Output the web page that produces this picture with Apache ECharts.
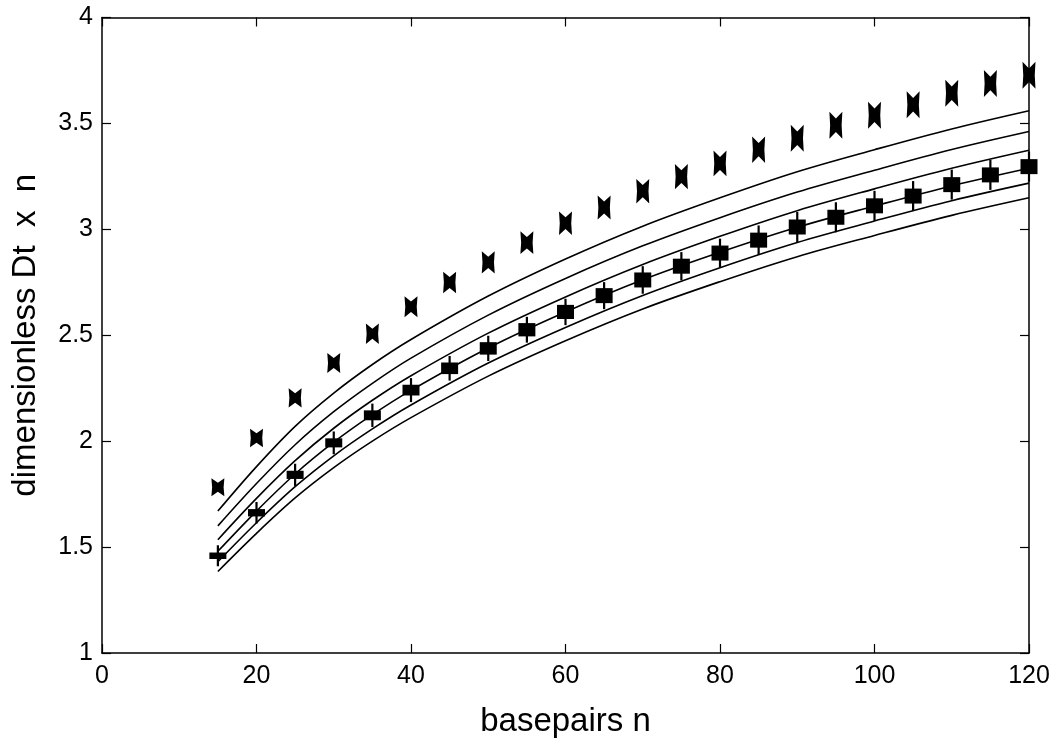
<!DOCTYPE html>
<html>
<head>
<meta charset="utf-8">
<script src="https://cdn.jsdelivr.net/npm/echarts@6/dist/echarts.min.js"></script>
<style>html,body{margin:0;padding:0;background:#fff}#c{width:1054px;height:743px}</style>
</head>
<body>
<div id="c"></div>
<script>
// ---- data ----
const basepairs = [15,20,25,30,35,40,45,50,55,60,65,70,75,80,85,90,95,100,105,110,115,120];
const crossValues = [1.782,2.015,2.204,2.369,2.507,2.634,2.749,2.844,2.937,3.029,3.103,3.180,3.249,3.311,3.376,3.430,3.491,3.539,3.588,3.642,3.688,3.727];
const squareValues = [1.459,1.662,1.841,1.992,2.122,2.241,2.344,2.438,2.526,2.610,2.687,2.761,2.826,2.888,2.949,3.011,3.057,3.111,3.157,3.211,3.257,3.296];
const curveN = [15,20,25,30,35,40,50,60,70,80,90,100,110,120];
const curve1 = [1.67,1.88,2.07,2.227,2.362,2.48,2.685,2.86,3.015,3.149,3.272,3.376,3.474,3.56];
const curve2 = [1.60,1.80,1.983,2.139,2.273,2.392,2.595,2.768,2.922,3.055,3.176,3.279,3.377,3.462];
const curve3 = [1.535,1.73,1.908,2.061,2.193,2.309,2.51,2.681,2.834,2.967,3.088,3.191,3.288,3.373];
const curve4 = [1.48,1.67,1.845,1.995,2.125,2.24,2.44,2.61,2.762,2.892,3.01,3.11,3.205,3.288];
const curve5 = [1.431,1.615,1.785,1.931,2.058,2.171,2.369,2.537,2.688,2.819,2.938,3.039,3.135,3.218];
const curve6 = [1.385,1.565,1.732,1.875,2.0,2.111,2.307,2.474,2.624,2.753,2.871,2.971,3.066,3.149];
const xTicks = [0,20,40,60,80,100,120];
const yTicks = [1,1.5,2,2.5,3,3.5,4];
const xTitle = 'basepairs n';
const yTitle = 'dimensionless Dt  x  n';

// ---- chart ----
const FONT = 'Liberation Sans, Arial, Helvetica, sans-serif';
const pair = (xs, ys) => xs.map((x, i) => [x, ys[i]]);
const curves = [curve1, curve2, curve3, curve4, curve5, curve6];
const bowtie = 'path://M0,0 L6,5 L12,0 L11.3,10 L12,20 L6,15 L0,20 L0.7,10 Z';

const mkAxis = (extra) => Object.assign({
  type: 'value', splitLine: {show: false},
  axisLine: {show: true, onZero: false, lineStyle: {color: '#000', width: 1.5}},
  axisTick: {show: true, inside: true, length: 9, lineStyle: {color: '#000', width: 1.2}},
}, extra);

const series = curves.map(c => ({
  type: 'line', data: pair(curveN, c), smooth: 0.35, symbol: 'none',
  lineStyle: {color: '#000', width: 1.6}, silent: true, z: 2
}));
series.push({
  type: 'scatter', data: pair(basepairs, squareValues),
  symbol: 'rect',
  symbolSize: (v) => [2.2, Math.min(30, 21 + (v[0] - 15) * 0.12)],
  itemStyle: {color: '#000', opacity: 1}, z: 3
});
series.push({
  type: 'scatter', data: pair(basepairs, squareValues),
  symbol: 'rect',
  symbolSize: (v) => [17, Math.min(15, 6.5 + (v[0] - 15) * 0.17)],
  itemStyle: {color: '#000', opacity: 1}, z: 4
});
series.push({
  type: 'scatter', data: pair(basepairs, crossValues),
  symbol: bowtie,
  symbolKeepAspect: false,
  symbolSize: (v) => [13, Math.min(27, 18 + (v[0] - 15) * 0.12)],
  itemStyle: {color: '#000', opacity: 1}, z: 4
});

const chart = echarts.init(document.getElementById('c'), null, {renderer: 'canvas'});
chart.setOption({
  backgroundColor: '#fff',
  animation: false,
  textStyle: {fontFamily: FONT},
  grid: {left: 102, right: 25, top: 17.5, bottom: 76, containLabel: false},
  xAxis: [
    mkAxis({
      min: xTicks[0], max: xTicks[xTicks.length - 1], interval: 20, position: 'bottom',
      axisLabel: {color: '#000', fontSize: 25, fontFamily: FONT, margin: 11},
      name: xTitle, nameLocation: 'middle', nameGap: 52,
      nameTextStyle: {color: '#000', fontSize: 33, fontFamily: FONT}
    }),
    mkAxis({
      min: xTicks[0], max: xTicks[xTicks.length - 1], interval: 20, position: 'top',
      axisLabel: {show: false}
    })
  ],
  yAxis: [
    mkAxis({
      min: yTicks[0], max: yTicks[yTicks.length - 1], interval: 0.5, position: 'left',
      axisLabel: {color: '#000', fontSize: 25, fontFamily: FONT, margin: 9},
      name: yTitle, nameLocation: 'middle', nameGap: 60, nameRotate: 90,
      nameTextStyle: {color: '#000', fontSize: 33, fontFamily: FONT}
    }),
    mkAxis({
      min: yTicks[0], max: yTicks[yTicks.length - 1], interval: 0.5, position: 'right',
      axisLabel: {show: false}
    })
  ],
  series: series
});
</script>
</body>
</html>
